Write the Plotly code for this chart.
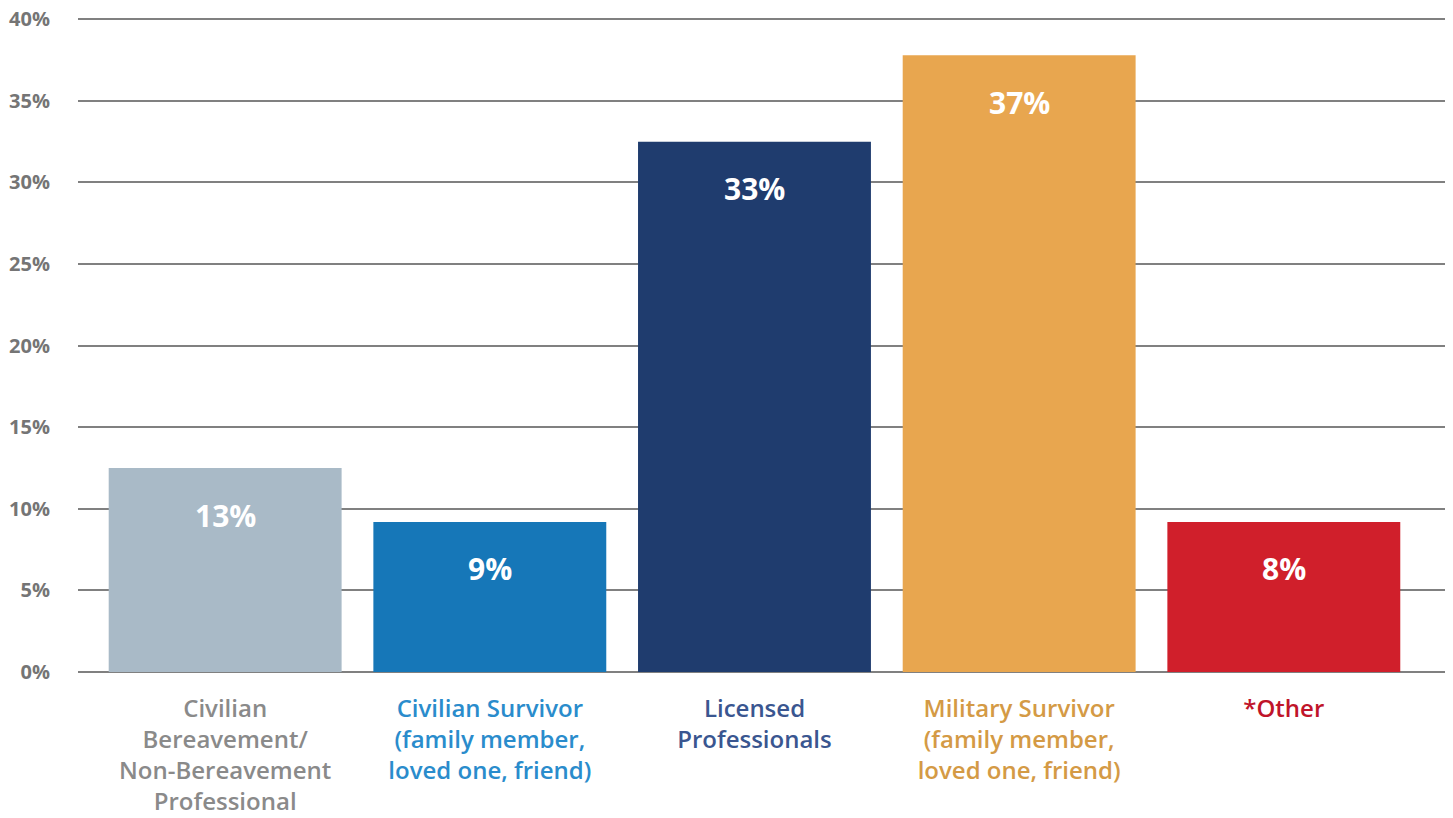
import plotly.graph_objects as go

categories = [
    "Civilian<br>Bereavement/<br>Non-Bereavement<br>Professional",
    "Civilian Survivor<br>(family member,<br>loved one, friend)",
    "Licensed<br>Professionals",
    "Military Survivor<br>(family member,<br>loved one, friend)",
    "*Other",
]
values = [12.5, 9.2, 32.5, 37.8, 9.2]
value_labels = ["13%", "9%", "33%", "37%", "8%"]
bar_colors = ["#a9bac7", "#1677b8", "#1f3c6e", "#e8a64f", "#d01f2b"]
label_colors = ["#8a8a8a", "#2a8ccc", "#3a5690", "#d49a45", "#c0142a"]

FONT = "Open Sans"

fig = go.Figure(
    go.Bar(
        x=list(range(len(categories))),
        y=values,
        marker=dict(color=bar_colors, line=dict(width=0)),
        width=0.88,
        hoverinfo="skip",
    )
)

# value labels sit just below each bar top
for i, (v, lab) in enumerate(zip(values, value_labels)):
    fig.add_annotation(
        x=i, y=v, text=lab, showarrow=False, yshift=-47,
        font=dict(family=FONT, size=30, color="white", weight="bold"),
    )

ticktext = [
    f"<span style='color:{c}'>{t}</span>" for t, c in zip(categories, label_colors)
]

fig.update_xaxes(
    tickvals=list(range(len(categories))),
    ticktext=ticktext,
    range=[-0.556, 4.609],
    showgrid=False,
    ticks="outside",
    ticklen=0,
    ticklabelstandoff=15,
    ticklabeloverflow="allow",
    tickfont=dict(family=FONT, size=24, weight=600),
    showline=False,
    automargin=False,
)
fig.update_yaxes(
    range=[0, 40.08],
    dtick=5,
    ticksuffix="%",
    showgrid=True,
    gridcolor="#808080",
    gridwidth=2,
    zeroline=True,
    zerolinecolor="#808080",
    zerolinewidth=2,
    ticks="outside",
    ticklen=0,
    ticklabelstandoff=23,
    ticklabeloverflow="allow",
    tickfont=dict(family=FONT, size=20, color="#757575", weight="bold"),
    automargin=False,
)
# the page body adds an 8px margin, so the figure is sized to fit the window
fig.update_layout(
    width=1445,
    height=810,
    margin=dict(l=70, r=8, t=10, b=146),
    plot_bgcolor="white",
    paper_bgcolor="white",
    showlegend=False,
)

fig.write_html("out.html")
